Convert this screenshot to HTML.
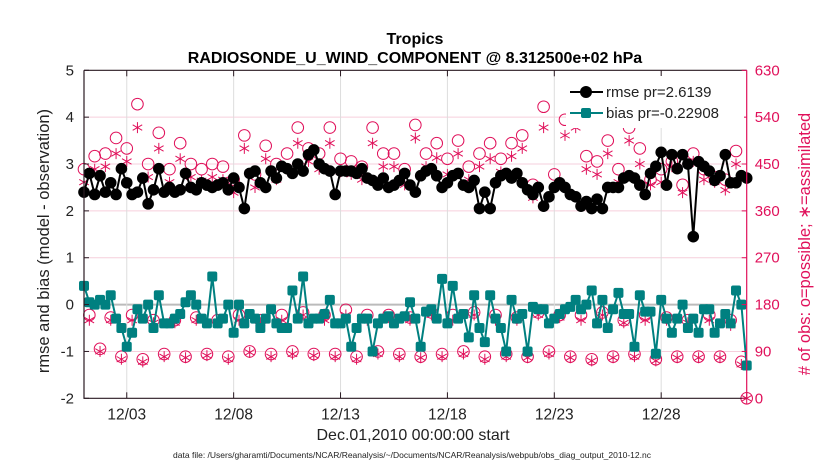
<!DOCTYPE html>
<html><head><meta charset="utf-8"><style>
html,body{margin:0;padding:0;background:#fff;}
svg{display:block;font-family:"Liberation Sans",Arial,sans-serif;}
</style></head><body>
<svg id="chart" width="830" height="470" viewBox="0 0 830 470" xmlns="http://www.w3.org/2000/svg">
<g id="grid"></g>
<g id="marks"></g>
<g id="axes"></g>
<text x="415" y="44" text-anchor="middle" font-size="16" font-weight="bold">Tropics</text>
<text x="415" y="63" text-anchor="middle" font-size="16" font-weight="bold">RADIOSONDE_U_WIND_COMPONENT @ 8.312500e+02 hPa</text>
<text transform="translate(49,241) rotate(-90)" text-anchor="middle" font-size="16.5" fill="#222">rmse and bias (model - observation)</text>
<text transform="translate(810,244) rotate(-90)" text-anchor="middle" font-size="16.5" fill="#e0105a"># of obs: o=possible; ∗=assimilated</text>
<text x="413" y="440" text-anchor="middle" font-size="16" fill="#222">Dec.01,2010 00:00:00 start</text>
<text x="412" y="458" text-anchor="middle" font-size="8.5" fill="#222">data file: /Users/gharamti/Documents/NCAR/Reanalysis/~/Documents/NCAR/Reanalysis/webpub/obs_diag_output_2010-12.nc</text>
<g id="legend"></g>
</svg>
<script>
const rmse=[2.4,2.8,2.35,2.75, 2.4,2.6,2.35,2.9, 2.6,2.35,2.4,2.7, 2.15,2.45,2.9,2.4, 2.5,2.4,2.45,2.8, 2.5,2.45,2.6,2.55, 2.5,2.55,2.6,2.45, 2.7,2.5,2.05,2.8, 2.85,2.6,2.5,2.85, 2.7,2.95,2.9,2.8, 3.0,2.85,3.2,3.3, 3.0,2.9,2.85,2.35, 2.85,2.85,2.85,2.8, 2.9,2.7,2.65,2.55, 2.7,2.5,2.55,2.65, 2.8,2.55,2.4,2.75, 2.85,2.9,2.75,2.5, 2.6,2.75,2.8,2.55, 2.5,2.65,2.05,2.4, 2.05,2.6,2.75,2.8, 2.7,2.8,2.6,2.45, 2.35,2.5,2.1,2.3, 2.5,2.6,2.5,2.35, 2.3,2.1,2.2,2.05, 2.25,2.05,2.5,2.5, 2.5,2.7,2.75,2.7, 2.55,2.35,2.8,2.95, 3.25,2.55,3.2,2.9, 3.2,3.0,1.45,3.05, 2.95,2.85,2.65,2.75, 3.2,2.6,2.6,2.75, 2.7];
const bias=[0.4,0.05,0.0,0.1, 0.0,0.2,-0.3,-0.5, -0.9,-0.6,-0.1,-0.3, 0.0,-0.5,0.2,-0.4, -0.4,-0.3,-0.2,0.05, 0.2,0.0,-0.3,-0.4, 0.6,-0.4,-0.3,0.0, -0.6,0.0,-0.4,-0.2, -0.3,-0.5,-0.3,-0.1, -0.4,-0.5,-0.5,0.3, -0.3,0.6,-0.4,-0.3, -0.3,-0.2,0.1,-0.4, -0.4,-0.3,-0.9,-0.5, -0.3,-0.3,-1.0,-0.4, -0.3,-0.25,-0.4,-0.3, -0.25,0.05,-0.3,-0.9, -0.15,-0.1,-0.3,0.55, -0.4,0.4,-0.3,-0.2, -0.7,0.2,-0.5,-0.8, 0.2,-0.3,-0.5,-1.0, 0.1,-0.3,-0.2,-1.0, -0.05,-0.1,-0.1,-0.4, -0.3,-0.2,-0.1,-0.05, 0.1,-0.1,0.0,0.3, -0.4,0.1,-0.5,-0.1, 0.25,-0.2,-0.2,-0.9, 0.2,-0.15,-0.15,-1.05, 0.1,-0.3,-0.6,-0.3, 0.0,-0.5,-0.3,-0.6, -0.1,-0.1,-0.6,-0.4, -0.2,-0.4,0.3,0.0, -1.3];
const possible=[440,160,465,95, 470,155,500,80, 480,160,565,75, 450,150,510,85, 440,150,490,80, 450,155,440,85, 450,150,445,80, 420,160,505,90, 430,150,485,85, 450,160,470,90, 520,165,480,85, 470,160,520,85, 460,170,455,80, 445,160,520,90, 470,160,470,85, 440,155,525,80, 470,165,490,85, 460,160,495,90, 445,165,470,80, 490,160,460,85, 490,155,505,80, 410,165,560,90, 430,160,535,80, 545,160,465,75, 455,165,495,80, 440,150,520,85, 480,160,420,75, 440,155,455,80, 410,150,470,80, 440,160,425,80, 420,150,475,70, 0];
const assimilated=[415,150,440,90, 445,150,470,75, 455,150,520,70, 425,145,480,80, 415,145,460,78, 425,150,418,82, 425,145,420,75, 395,150,480,88, 405,145,460,80, 420,150,440,85, 490,160,455,82, 440,150,490,80, 435,160,430,75, 420,150,490,85, 445,155,445,80, 410,150,500,78, 445,160,462,80, 430,150,470,85, 420,160,445,75, 460,150,435,80, 465,150,480,78, 385,160,520,85, 405,155,505,78, 520,150,440,72, 430,160,470,78, 415,145,495,80, 450,150,410,72, 415,150,445,78, 395,145,455,78, 420,150,415,78, 400,140,450,65, 0];
const yTicks=[-2,-1,0,1,2,3,4,5];
const y2Ticks=[0,90,180,270,360,450,540,630];
const xTickLabels=["12/03","12/08","12/13","12/18","12/23","12/28"];
const xTickDays=[2,7,12,17,22,27];
const stepDays=0.25;

const L=84,R=746.7,T=70.3,B=398.3;
const xs=d=>L+(R-L)*d/31;
const yL=v=>B-(B-T)*(v+2)/7;
const yR=n=>B-(B-T)*n/630;
const NS="http://www.w3.org/2000/svg";
function mk(tag,attrs,parent){const e=document.createElementNS(NS,tag);for(const k in attrs)e.setAttribute(k,attrs[k]);parent.appendChild(e);return e;}
const grid=document.getElementById('grid'),marks=document.getElementById('marks'),axes=document.getElementById('axes'),legend=document.getElementById('legend');
const PINK="#e0105a",TEAL="#008080";

yTicks.forEach(v=>{
  if(v===-2||v===5)return;
  const g=mk('line',{x1:L,x2:R,y1:yL(v),y2:yL(v),stroke:v===0?'#bbb':'#f6cfdc','stroke-width':v===0?2:1},grid);
  
  
});
xTickDays.forEach(d=>{
  const g=mk('line',{x1:xs(d),x2:xs(d),y1:T,y2:B,stroke:'#ddd','stroke-width':1},grid);
  
  
});

function starPath(cx,cy,r){let d='';for(let i=0;i<3;i++){const a=Math.PI/2+i*Math.PI/3;const dx=r*Math.cos(a),dy=r*Math.sin(a);d+=`M${cx-dx},${cy-dy}L${cx+dx},${cy+dy}`;}return d;}

possible.forEach((n,i)=>{
  const c=mk('circle',{cx:xs(i*stepDays),cy:yR(n),r:5.8,fill:'none',stroke:PINK,'stroke-width':1},marks);
  
  
});
assimilated.forEach((n,i)=>{
  const s=mk('path',{d:starPath(xs(i*stepDays),yR(n),5.5),stroke:PINK,'stroke-width':1,fill:'none'},marks);
  
  
});

const bl=mk('polyline',{points:bias.map((v,i)=>xs(i*stepDays)+','+yL(v)).join(' '),fill:'none',stroke:TEAL,'stroke-width':2},marks);


bias.forEach((v,i)=>{
  const r=mk('rect',{x:xs(i*stepDays)-5,y:yL(v)-5,width:10,height:10,rx:2,fill:TEAL},marks);
  
  
});
const rl=mk('polyline',{points:rmse.map((v,i)=>xs(i*stepDays)+','+yL(v)).join(' '),fill:'none',stroke:'#000','stroke-width':2},marks);


rmse.forEach((v,i)=>{
  const c=mk('circle',{cx:xs(i*stepDays),cy:yL(v),r:5.8,fill:'#000'},marks);
  
  
});

const ax1=mk('path',{d:`M${L},${T}L${R},${T}M${L},${T}L${L},${B}L${R},${B}`,stroke:'#2a1a22','stroke-width':1.2,fill:'none'},axes);


const ax2=mk('line',{x1:R,x2:R,y1:T,y2:B,stroke:PINK,'stroke-width':1.2},axes);


yTicks.forEach(v=>{
  const t=mk('text',{x:L-10,y:yL(v)+5,'text-anchor':'end','font-size':15,fill:'#222'},axes);t.textContent=v;
  
  
  mk('line',{x1:L,x2:L+5,y1:yL(v),y2:yL(v),stroke:'#2a1a22'},axes);
});
y2Ticks.forEach(n=>{
  const t=mk('text',{x:R+8,y:yR(n)+5,'text-anchor':'start','font-size':15,fill:PINK},axes);t.textContent=n;
  
  
  mk('line',{x1:R-5,x2:R,y1:yR(n),y2:yR(n),stroke:PINK},axes);
});
xTickDays.forEach((d,i)=>{
  mk('line',{x1:xs(d),x2:xs(d),y1:B,y2:B-6,stroke:'#2a1a22'},axes);
  mk('line',{x1:xs(d),x2:xs(d),y1:T,y2:T+6,stroke:'#2a1a22'},axes);
  const t=mk('text',{x:xs(d),y:B+21,'text-anchor':'middle','font-size':15.5,fill:'#222'},axes);t.textContent=xTickLabels[i];
  
  
});

const lb=mk('rect',{x:566,y:76,width:178,height:52,fill:'#fff',stroke:'none'},legend);


[['rmse pr=2.6139','#000','c',92],['bias pr=-0.22908',TEAL,'s',113]].forEach(([lab,col,sh,y])=>{
  mk('line',{x1:570,x2:603,y1:y,y2:y,stroke:col,'stroke-width':2},legend);
  if(sh==='c')mk('circle',{cx:586,cy:y,r:6,fill:col},legend);else mk('rect',{x:581,y:y-5,width:10,height:10,rx:2,fill:col},legend);
  const t=mk('text',{x:606,y:y+5,'font-size':15,fill:'#222'},legend);t.textContent=lab;
  
  
});
</script>
</body></html>
